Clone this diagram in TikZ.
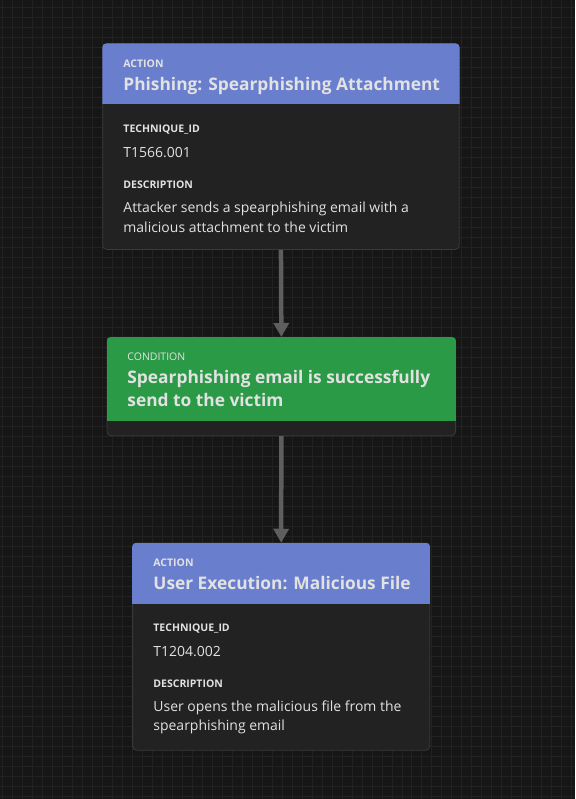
\documentclass[tikz,border=0pt]{standalone}
\usepackage{fontspec}
\setmainfont{Open Sans}
\usetikzlibrary{positioning,arrows.meta}

\definecolor{canvas}{HTML}{161616}
\definecolor{gridline}{HTML}{222222}
\definecolor{cardbody}{HTML}{222222}
\definecolor{cardedge}{HTML}{3A3A3A}
\definecolor{actionblue}{HTML}{6A7ECE}
\definecolor{condgreen}{HTML}{2B9A46}
\definecolor{linkgray}{HTML}{5E5E5E}
\definecolor{textlight}{HTML}{E2E2E2}

\tikzset{
  card/.style={draw=cardedge, fill=cardbody, rounded corners=4pt, line width=0.8pt, inner sep=0pt},
  kindlabel/.style={anchor=base west, inner sep=0pt, text=textlight, font=\fontsize{10.5}{12}\selectfont\bfseries},
  titletext/.style={anchor=base west, inner sep=0pt, text=textlight, align=left, font=\fontsize{17.35}{22.7}\selectfont\bfseries},
  fieldvalue/.style={anchor=base west, inner sep=0pt, text=textlight, align=left, font=\fontsize{14}{19.6}\selectfont},
  link/.style={draw=linkgray, line width=4.5pt, -{Triangle[length=14pt,width=15pt]}},
}

\begin{document}
\begin{tikzpicture}[x=1pt, y=-1pt]
    % background with grid
    \fill[canvas] (0,0) rectangle (575,799);
    \foreach \gx in {2,12,...,572}
        \draw[gridline, line width=1pt] (\gx,0) -- (\gx,799);
    \foreach \gy in {7,17,...,797}
        \draw[gridline, line width=1pt] (0,\gy) -- (575,\gy);

    % cards
    \node (act1) [card, minimum width=357, minimum height=206] at (280.8,146.3) {};
    \node (cond) [card, minimum width=349, minimum height=98.4] at (281.2,386.5) {};
    \node (act2) [card, minimum width=297.4, minimum height=207.4] at (281,647) {};

    % coloured headers
    \begin{scope}
        \clip[rounded corners=4pt] (act1.north west) rectangle (act1.south east);
        \fill[actionblue] (act1.north west) rectangle ([yshift=-61pt]act1.north east);
    \end{scope}
    \begin{scope}
        \clip[rounded corners=4pt] (cond.north west) rectangle (cond.south east);
        \fill[condgreen] (cond.north west) rectangle ([yshift=-84.4pt]cond.north east);
    \end{scope}
    \begin{scope}
        \clip[rounded corners=4pt] (act2.north west) rectangle (act2.south east);
        \fill[actionblue] (act2.north west) rectangle ([yshift=-61pt]act2.north east);
    \end{scope}

    % first action (two-line nodes sit on their last baseline)
    \node (act1kind)  [kindlabel]  at ([shift={(21,23.7)}]act1.north west) {ACTION};
    \node (act1title) [titletext]  at ([shift={(21,47.4)}]act1.north west) {Phishing: Spearphishing Attachment};
    \node (act1idk)   [kindlabel]  at ([shift={(21,89)}]act1.north west) {TECHNIQUE\_ID};
    \node (act1id)    [fieldvalue] at ([shift={(21,114.4)}]act1.north west) {T1566.001};
    \node (act1desck) [kindlabel]  at ([shift={(21,145)}]act1.north west) {DESCRIPTION};
    \node (act1desc)  [fieldvalue] at ([shift={(21,189)}]act1.north west) {Attacker sends a spearphishing email with a\\malicious attachment to the victim};

    % condition
    \node (condkind)  [kindlabel, font=\fontsize{10.5}{12}\selectfont] at ([shift={(20.6,23.7)}]cond.north west) {CONDITION};
    \node (condtitle) [titletext] at ([shift={(20.6,69.4)}]cond.north west) {Spearphishing email is successfully\\send to the victim};

    % second action
    \node (act2kind)  [kindlabel]  at ([shift={(21,23.4)}]act2.north west) {ACTION};
    \node (act2title) [titletext]  at ([shift={(21,46.7)}]act2.north west) {User Execution: Malicious File};
    \node (act2idk)   [kindlabel]  at ([shift={(21,88.7)}]act2.north west) {TECHNIQUE\_ID};
    \node (act2id)    [fieldvalue] at ([shift={(21,114)}]act2.north west) {T1204.002};
    \node (act2desck) [kindlabel]  at ([shift={(21,144.7)}]act2.north west) {DESCRIPTION};
    \node (act2desc)  [fieldvalue] at ([shift={(21,188.3)}]act2.north west) {User opens the malicious file from the\\spearphishing email};

    % links
    \draw[link] (act1.south) -- (cond.north);
    \draw[link] (cond.south) -- (act2.north);
\end{tikzpicture}
\end{document}
